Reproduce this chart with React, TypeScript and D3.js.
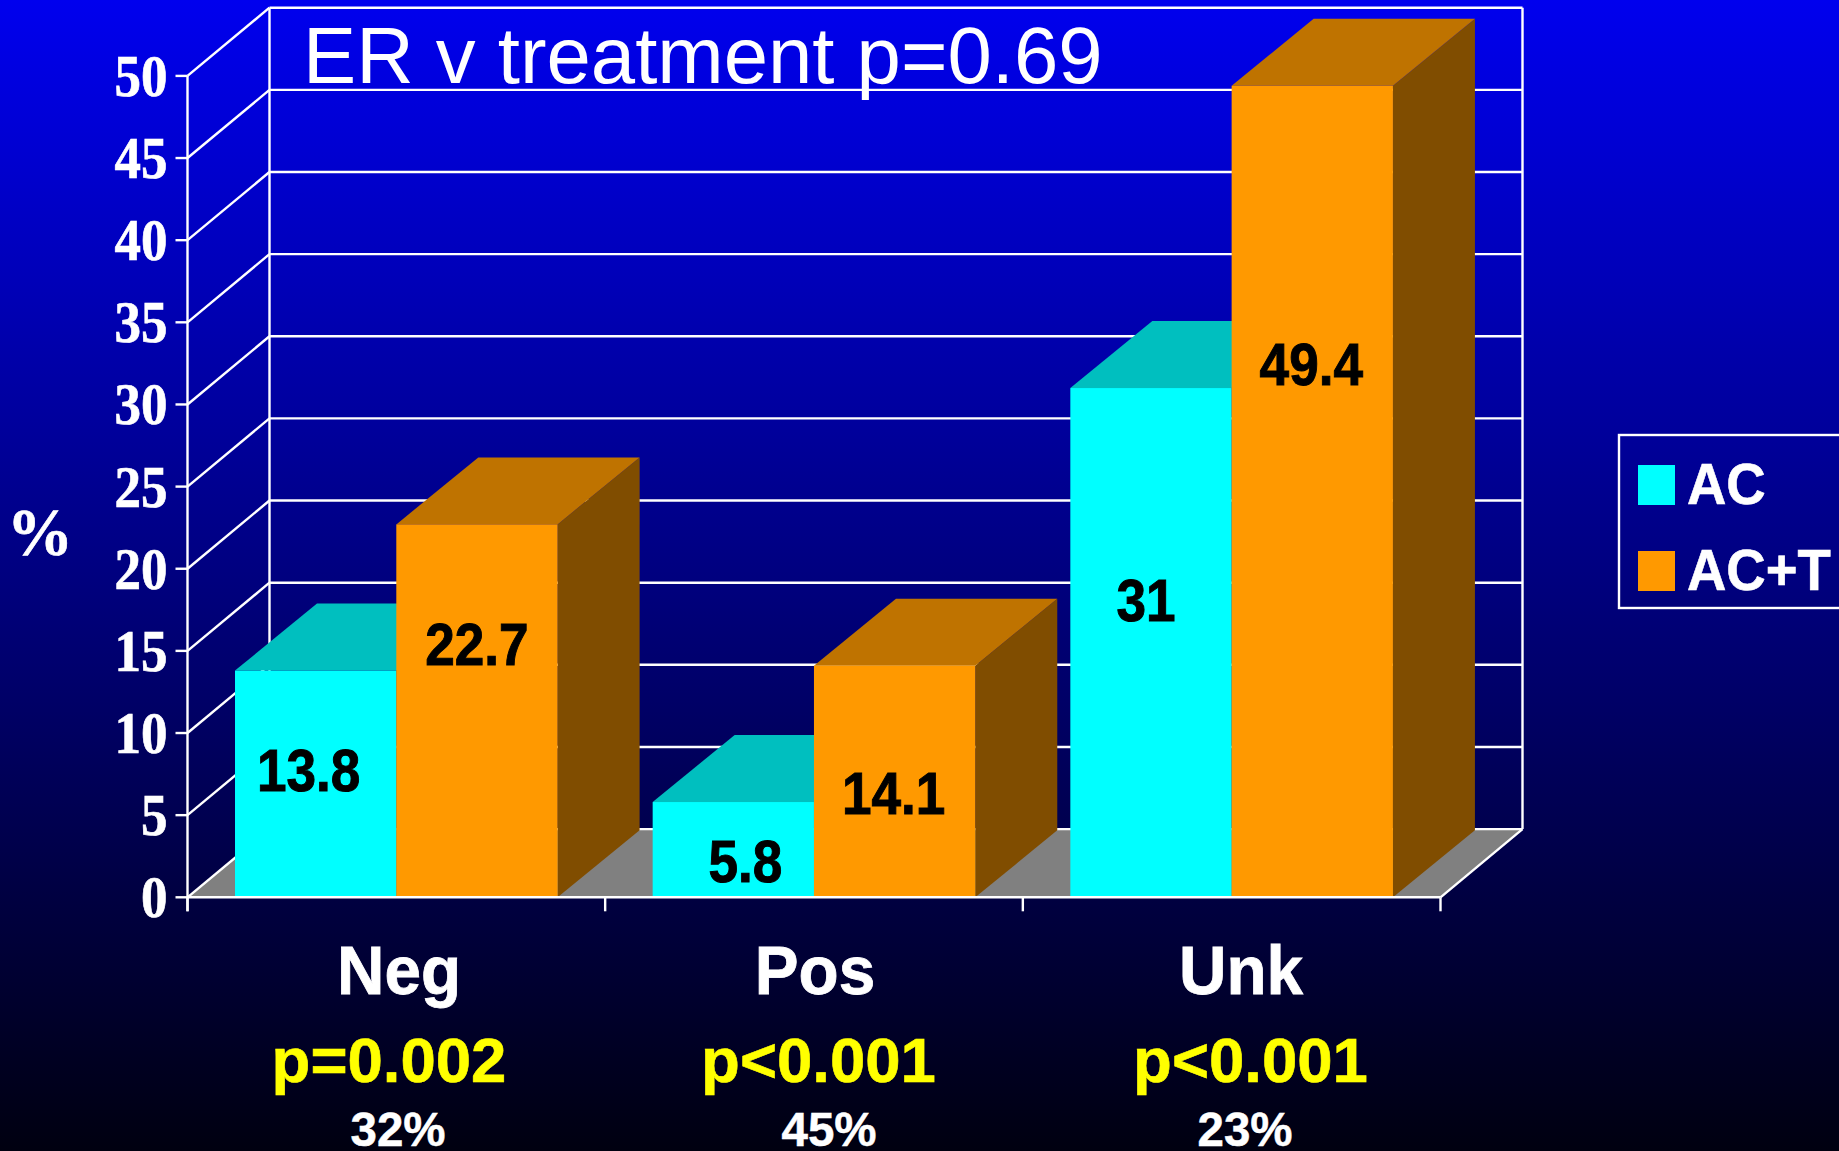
import React from "react";
import * as d3 from "d3";

const categories = ["Neg", "Pos", "Unk"];
const seriesNames = ["AC", "AC+T"];
const acValues = [13.8, 5.8, 31];
const actValues = [22.7, 14.1, 49.4];
const pValues = ["p=0.002", "p<0.001", "p<0.001"];
const percentValues = ["32%", "45%", "23%"];
const yTicks = [0, 5, 10, 15, 20, 25, 30, 35, 40, 45, 50];

const W = 1839, H = 1151;
const X0 = 187.5, X1 = 1440.5, Y0 = 897.3, Y50 = 75.9;
const DX = 82, DY = 68.2, BAR_DX = 82, BAR_DY = 67;
const SANS = "'Liberation Sans', Arial, sans-serif";
const SERIF = "'Liberation Serif', 'Times New Roman', serif";
const WHITE = "#ffffff";

const y = d3.scaleLinear().domain([0, 50]).range([Y0, Y50]);
const x = d3.scaleBand<string>().domain(categories).range([X0, X1]);
const xInner = d3.scaleBand<string>().domain(seriesNames).range([47.5, 370.1]);

const fills = [
  { front: "#00ffff", top: "#00bfbf", side: "#008080" },
  { front: "#ff9900", top: "#bf7300", side: "#804d00" },
];

function T({ x, y, size, sx = 1, sy = 1, anchor = "middle", fill = WHITE, family = SANS, weight = "bold", heavy = 0, children }: any) {
  return (
    <text
      transform={`translate(${x},${y}) scale(${sx},${sy})`}
      fontFamily={family}
      fontSize={size}
      fontWeight={weight}
      fill={fill}
      stroke={heavy ? fill : "none"}
      strokeWidth={heavy}
      textAnchor={anchor}
    >
      {children}
    </text>
  );
}

const poly = (pts: number[][]) => (d3.line()(pts as any) as string) + "Z";

// Hand-placed data label offsets in the source slide, relative to the bar's centre / top
const labelShift = [
  [[-7, 120], [0, 141]],
  [[12, 80], [-1, 148]],
  [[-5, 233], [-1, 299]],
];
const catCx = [399, 815, 1241];
const pCx = [389, 818.5, 1250.5];
const pctCx = [398, 829, 1245];

export default function App() {
  const series = [acValues, actValues];
  const bw = xInner.bandwidth();
  return (
    <svg width={W} height={H} viewBox={`0 0 ${W} ${H}`} style={{ position: "absolute", left: 0, top: 0, display: "block" }}>
      <defs>
        <linearGradient id="bg" x1="0" y1="0" x2="0" y2="1">
          <stop offset="0" stopColor="#0000ee" />
          <stop offset="1" stopColor="#000010" />
        </linearGradient>
      </defs>
      <rect width={W} height={H} fill="url(#bg)" />

      <T x={303} y={83} size={79.7} anchor="start" weight="normal">ER v treatment p=0.69</T>

      {/* floor */}
      <path d={poly([[X0, Y0], [X0 + DX, Y0 - DY], [X1 + DX, Y0 - DY], [X1, Y0]])} fill="#808080" />

      {/* walls */}
      <g stroke={WHITE} strokeWidth={2.4} fill="none">
        {yTicks.map((t) => (
          <g key={t}>
            <line x1={X0 - 12} x2={X0} y1={y(t)} y2={y(t)} />
            <line x1={X0} x2={X0 + DX} y1={y(t)} y2={y(t) - DY} />
            <line x1={X0 + DX} x2={X1 + DX} y1={y(t) - DY} y2={y(t) - DY} />
          </g>
        ))}
        <line x1={X0} x2={X0} y1={Y50} y2={Y0 + 14} />
        <line x1={X0 + DX} x2={X0 + DX} y1={Y50 - DY} y2={Y0 - DY} />
        <line x1={X1 + DX} x2={X1 + DX} y1={Y50 - DY} y2={Y0 - DY} />
        <line x1={X1} x2={X1 + DX} y1={Y0} y2={Y0 - DY} />
      </g>

      {/* bars */}
      {categories.map((c, i) => (
        <g key={c}>
          {seriesNames.map((s, j) => {
            const l = (x(c) as number) + (xInner(s) as number);
            const r = l + bw;
            const t = y(series[j][i]);
            return (
              <g key={s}>
                <path d={poly([[r, Y0], [r + BAR_DX, Y0 - BAR_DY], [r + BAR_DX, t - BAR_DY], [r, t]])} fill={fills[j].side} />
                <path d={poly([[l, t], [l + BAR_DX, t - BAR_DY], [r + BAR_DX, t - BAR_DY], [r, t]])} fill={fills[j].top} />
                <rect x={l} y={t} width={bw} height={Y0 - t} fill={fills[j].front} />
              </g>
            );
          })}
        </g>
      ))}

      {/* front axis */}
      <g stroke={WHITE} strokeWidth={2.6} fill="none">
        <line x1={X0} x2={X1} y1={Y0} y2={Y0} />
      </g>
      <g stroke={WHITE} strokeWidth={2.4} fill="none">
        {[...categories.map((c) => x(c) as number), X1].map((v) => (
          <line key={v} x1={v} x2={v} y1={Y0} y2={Y0 + 14} />
        ))}
      </g>

      {/* data labels */}
      {categories.map((c, i) =>
        seriesNames.map((s, j) => {
          const cx = (x(c) as number) + (xInner(s) as number) + bw / 2 + labelShift[i][j][0];
          const cy = y(series[j][i]) + labelShift[i][j][1];
          return (
            <T key={c + s} x={cx} y={cy} size={59} sx={0.9} fill="#000000" heavy={1}>
              {series[j][i]}
            </T>
          );
        })
      )}

      {/* y tick labels */}
      {yTicks.map((t) => (
        <T key={t} x={167.5} y={y(t) + 20} size={53} sy={1.11} anchor="end" family={SERIF} heavy={0.6}>
          {t}
        </T>
      ))}
      <T x={40} y={555} size={66} sy={1.02} family={SERIF} heavy={0.6}>%</T>

      {/* category annotations */}
      {categories.map((c, i) => (
        <g key={c}>
          <T x={catCx[i]} y={994} size={68} sx={0.965} heavy={0.8}>{c}</T>
          <T x={pCx[i]} y={1082} size={63.5} fill="#ffff00" heavy={0.6}>{pValues[i]}</T>
          <T x={pctCx[i]} y={1146} size={47.5} heavy={0.5}>{percentValues[i]}</T>
        </g>
      ))}

      {/* legend */}
      <rect x={1619} y={435} width={240} height={173} fill="none" stroke={WHITE} strokeWidth={2.4} />
      {seriesNames.map((s, j) => (
        <g key={s}>
          <rect x={1638} y={465 + j * 86} width={37} height={40} fill={fills[j].front} />
          <T x={1687} y={504 + j * 86} size={58} sx={0.94} anchor="start" heavy={0.6}>{s}</T>
        </g>
      ))}
    </svg>
  );
}
